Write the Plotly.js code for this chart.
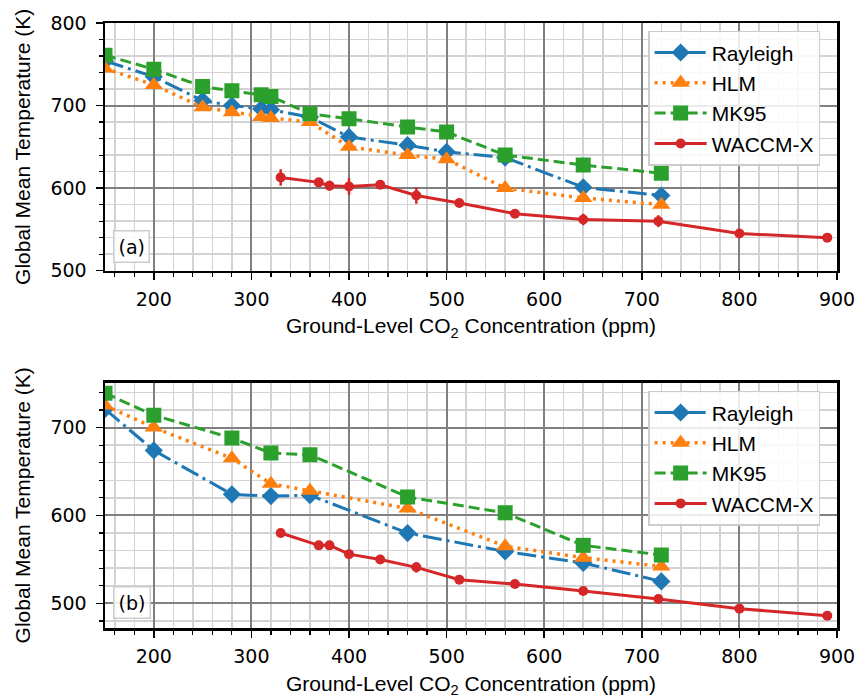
<!DOCTYPE html>
<html>
<head>
<meta charset="utf-8">
<script src="https://cdn.plot.ly/plotly-3.0.1.min.js"></script>
<style>
  html, body { margin: 0; padding: 0; background: #fff; }
  #chart { width: 867px; height: 700px; }
</style>
</head>
<body>
<div id="chart"></div>
<script>
// Ground-level CO2 concentrations (ppm) for the 1-D models
const co2ModelsA = [150, 200, 250, 280, 310, 320, 360, 400, 460, 500, 560, 640, 720];
const co2ModelsB = [150, 200, 280, 320, 360, 460, 560, 640, 720];
// WACCM-X CO2 concentrations (ppm)
const co2Waccm = [330, 369, 380, 400, 432, 469, 513, 570, 640, 717, 800, 890];

// Panel (a): global mean temperature (K)
const rayleighA = [754, 735, 706, 700, 696, 695, 686, 662, 652, 644, 637, 601, 591];
const hlmA      = [745, 725, 698, 692, 686, 685, 680, 650, 640, 635, 600, 588, 580];
const mk95A     = [761, 744, 723, 718, 713, 711, 690, 684, 674, 668, 640, 628, 618];
const waccmA    = [613, 607, 603, 602, 604, 591, 582, 569, 562, 560, 545, 540];
const waccmErrA = [10, 3, 6, 10, 5, 10, 3, 3, 7, 7, 2, 2];

// Panel (b): global mean temperature (K)
const rayleighB = [721, 674, 624, 622, 623, 580, 559, 546, 525];
const hlmB      = [725, 700, 665, 636, 628, 608, 565, 552, 542];
const mk95B     = [739, 714, 688, 671, 669, 621, 603, 566, 555];
const waccmB    = [580, 566, 566, 556, 550, 541, 527, 522, 514, 505, 494, 486];
const waccmErrB = [3, 5, 5, 3, 2, 6, 3, 3, 2, 4, 1, 1];

const seriesNames = ['Rayleigh', 'HLM', 'MK95', 'WACCM-X'];
const panelLabels = ['(a)', '(b)'];

const BLUE = '#1f77b4', ORANGE = '#ff7f0e', GREEN = '#2ca02c', RED = '#d62728';
const LW = 3;

function panelTraces(xs, ys, xs2, ys2, err, axis, legend) {
  const common = { xaxis: 'x' + axis, yaxis: 'y' + axis, legend: legend, mode: 'lines+markers' };
  return [
    Object.assign({}, common, {
      name: seriesNames[0], x: xs, y: ys[0],
      line: { color: BLUE, width: LW, dash: '19px,5px,3px,5px' },
      marker: { symbol: 'diamond', size: 14, color: BLUE }
    }),
    Object.assign({}, common, {
      name: seriesNames[1], x: xs, y: ys[1],
      line: { color: ORANGE, width: LW + 0.5, dash: '3px,5px' },
      marker: { symbol: 'triangle-up', size: 16, color: ORANGE }
    }),
    Object.assign({}, common, {
      name: seriesNames[2], x: xs, y: ys[2],
      line: { color: GREEN, width: LW, dash: '11px,5px' },
      marker: { symbol: 'square', size: 15, color: GREEN }
    }),
    Object.assign({}, common, {
      name: seriesNames[3], x: xs2, y: ys2,
      line: { color: RED, width: LW },
      marker: { symbol: 'circle', size: 10, color: RED },
      error_y: { type: 'data', array: err, visible: true, color: RED, thickness: 2.5, width: 0 }
    })
  ];
}

const data = [].concat(
  panelTraces(co2ModelsA, [rayleighA, hlmA, mk95A], co2Waccm, waccmA, waccmErrA, '', 'legend'),
  panelTraces(co2ModelsB, [rayleighB, hlmB, mk95B], co2Waccm, waccmB, waccmErrB, '2', 'legend2')
);

const tickFont = { family: 'DejaVu Sans', size: 19, color: '#000' };
const titleFont = { family: 'Liberation Sans, Arial', size: 21, color: '#000' };

function xAxis(anchor) {
  return {
    anchor: anchor, range: [150, 900], dtick: 100, tick0: 0,
    showline: true, mirror: true, linecolor: '#000', linewidth: 2.5,
    ticks: 'outside', ticklen: 7, tickwidth: 1.5, tickcolor: '#000',
    tickfont: tickFont, ticklabelstandoff: 3,
    showgrid: true, gridcolor: '#808080', gridwidth: 2,
    zeroline: false,
    minor: { dtick: 20, tick0: 0, ticks: 'outside', ticklen: 4, tickwidth: 1.2, tickcolor: '#000',
             showgrid: true, gridcolor: '#d3d3d3', gridwidth: 1.5 },
    title: { text: 'Ground-Level CO<sub>2</sub> Concentration (ppm)', font: titleFont, standoff: 10 }
  };
}

function yAxis(anchor, domain, range) {
  return {
    anchor: anchor, domain: domain, range: range, dtick: 100, tick0: 0,
    showline: true, mirror: true, linecolor: '#000', linewidth: 2.5,
    ticks: 'outside', ticklen: 7, tickwidth: 1.5, tickcolor: '#000',
    tickfont: tickFont, ticklabelstandoff: 5,
    showgrid: true, gridcolor: '#808080', gridwidth: 2,
    zeroline: false,
    minor: { dtick: 20, tick0: 0, ticks: 'outside', ticklen: 4, tickwidth: 1.2, tickcolor: '#000',
             showgrid: true, gridcolor: '#d3d3d3', gridwidth: 1.5 },
    title: { text: 'Global Mean Temperature (K)', font: titleFont, standoff: 14 }
  };
}

const legendStyle = {
  xanchor: 'left', yanchor: 'top', x: 0.742,
  font: { family: 'Liberation Sans, Arial', size: 21, color: '#000' },
  bgcolor: 'rgba(255,255,255,0.85)', bordercolor: '#cccccc', borderwidth: 1.5,
  itemwidth: 52, tracegroupgap: 0
};

function panelLabel(text, axis, y) {
  return {
    text: text, xref: 'x' + axis + ' domain', yref: 'y' + axis + ' domain',
    x: 0.011, y: y, xanchor: 'left', yanchor: 'bottom', showarrow: false,
    font: { family: 'DejaVu Sans', size: 19, color: '#000' },
    bgcolor: 'rgba(255,255,255,0.85)', bordercolor: '#cccccc', borderwidth: 1.5, borderpad: 4
  };
}

const layout = {
  width: 867, height: 700,
  margin: { l: 105, r: 30, t: 23, b: 72 },
  paper_bgcolor: '#fff', plot_bgcolor: '#fff',
  showlegend: true,
  xaxis: xAxis('y'),
  yaxis: yAxis('x', [0.5906, 1], [500, 800]),
  xaxis2: xAxis('y2'),
  yaxis2: yAxis('x2', [0, 0.4055], [472, 751]),
  legend: Object.assign({}, legendStyle, { y: 0.987 }),
  legend2: Object.assign({}, legendStyle, { y: 0.392 }),
  annotations: [panelLabel(panelLabels[0], '', 0.031), panelLabel(panelLabels[1], '2', 0.035)]
};

Plotly.newPlot('chart', data, layout, { displayModeBar: false, staticPlot: true });
</script>
</body>
</html>
